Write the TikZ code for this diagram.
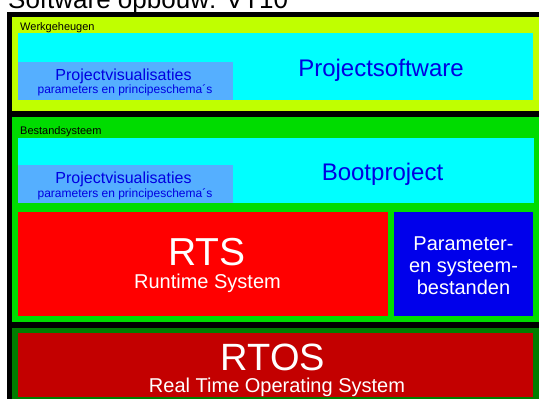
\documentclass[tikz,border=0pt]{standalone}
\usepackage{fontspec}
\setmainfont{Liberation Sans}
\definecolor{ylime}{RGB}{192,255,0}
\definecolor{lgreen}{RGB}{0,220,0}
\definecolor{dgreen}{RGB}{0,125,0}
\definecolor{cyanb}{RGB}{0,255,255}
\definecolor{lblue}{RGB}{85,175,255}
\definecolor{txtblue}{RGB}{0,0,225}
\definecolor{rtsred}{RGB}{255,0,0}
\definecolor{pblue}{RGB}{0,0,235}
\definecolor{dred}{RGB}{195,0,0}
\tikzset{
  lbl/.style={inner sep=0pt, anchor=base},
  small/.style={lbl, anchor=base west, font=\fontsize{11}{13}\selectfont},
  bigblue/.style={lbl, text=txtblue, font=\fontsize{24}{28}\selectfont},
  visu/.style={lbl, text=txtblue, font=\fontsize{16}{19}\selectfont},
  visusub/.style={lbl, text=txtblue, font=\fontsize{12}{14}\selectfont},
  huge/.style={lbl, text=white, font=\fontsize{39}{44}\selectfont},
  sub/.style={lbl, text=white, font=\fontsize{20}{23}\selectfont},
}
\begin{document}
\begin{tikzpicture}[x=1pt,y=-1pt]
\clip (0,0) rectangle (539,399);
\fill[white] (0,0) rectangle (539,399);
% title (clipped at top)
\node[lbl, anchor=base west, font=\fontsize{26}{30}\selectfont] (title) at (8,8.5) {Software opbouw: VT10};
% black frame
\fill[black] (6.5,12) rectangle (539,399);
% Werkgeheugen
\fill[ylime] (12,17) rectangle (539,110.5);
\fill[cyanb] (18,33) rectangle (533,100);
\fill[lblue] (18,62) rectangle (233,100);
\node[small] (wg) at (20,30) {Werkgeheugen};
\node[bigblue] (ps) at (381,76) {Projectsoftware};
\node[visu] (pv1) at (123.5,80) {Projectvisualisaties};
\node[visusub] (pp1) at (125,93.5) {parameters en principeschema´s};
% Bestandsysteem
\fill[lgreen] (12,116.5) rectangle (539,322);
\fill[cyanb] (18,138) rectangle (534,203);
\fill[lblue] (18,165) rectangle (233,203);
\node[small] (bs) at (20,134) {Bestandsysteem};
\node[bigblue] (bp) at (382.5,180) {Bootproject};
\node[visu] (pv2) at (123.5,183.3) {Projectvisualisaties};
\node[visusub] (pp2) at (125,197.3) {parameters en principeschema´s};
\fill[rtsred] (18,212) rectangle (388,315.5);
\fill[pblue] (394,212) rectangle (533,315.5);
\node[huge] (rts) at (207,265.3) {RTS};
\node[sub] (rtss) at (207.5,288.5) {Runtime System};
\node[sub, align=center, font=\fontsize{20}{22}\selectfont] (par) at (463.5,294) {Parameter-\\en systeem-\\bestanden};
% RTOS
\fill[dgreen] (12,328) rectangle (539,399);
\fill[dred] (18,333) rectangle (533,397);
\node[huge, font=\fontsize{38}{43}\selectfont] (rtos) at (273,370.5) {RTOS};
\node[sub] (rtoss) at (277,392) {Real Time Operating System};
\end{tikzpicture}
\end{document}
